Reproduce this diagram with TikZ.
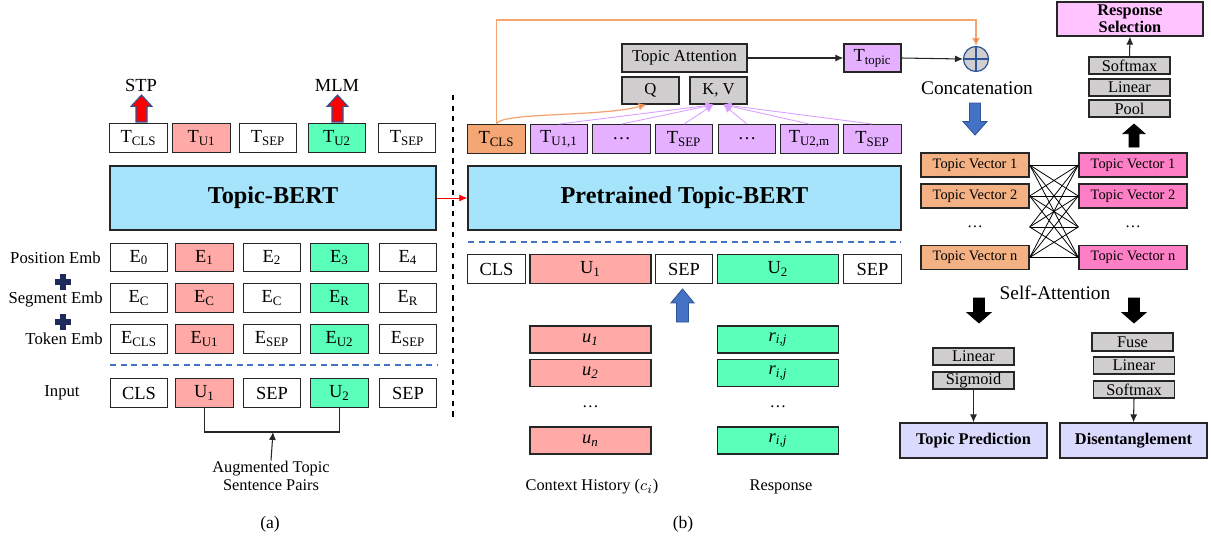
\documentclass[tikz,border=0pt]{standalone}
\usepackage{fontspec}
\setmainfont{Liberation Serif}
\usetikzlibrary{arrows.meta}

\definecolor{pinkc}{HTML}{FFAAA6}
\definecolor{greenc}{HTML}{5AFFB9}
\definecolor{bertc}{HTML}{A6E4FC}
\definecolor{purpc}{HTML}{E4B0FF}
\definecolor{orangec}{HTML}{F4A674}
\definecolor{vecc}{HTML}{F4B183}
\definecolor{hotc}{HTML}{FF7FC6}
\definecolor{grayc}{HTML}{D0CECE}
\definecolor{respc}{HTML}{FFC4FF}
\definecolor{lavc}{HTML}{DADAFF}
\definecolor{bluec}{HTML}{4472C4}
\definecolor{circb}{HTML}{2F5597}
\definecolor{navyc}{HTML}{1F2A5C}
\definecolor{orline}{HTML}{F4A46E}
\definecolor{orhead}{HTML}{ED7D31}
\definecolor{purline}{HTML}{D9A0FF}

% fat block arrow: style, x, y of tip, y of base, head width, shaft width
\newcommand{\blockarrow}[6]{%
  \draw[#1] ({#2-#6/2},#4) -- ({#2-#6/2},{#3+(#4-#3)*0.42}) -- ({#2-#5/2},{#3+(#4-#3)*0.42}) -- (#2,#3)
    -- ({#2+#5/2},{#3+(#4-#3)*0.42}) -- ({#2+#6/2},{#3+(#4-#3)*0.42}) -- ({#2+#6/2},#4) -- cycle;}

\begin{document}
\begin{tikzpicture}[x=0.02cm, y=-0.02cm,
tokbox/.style={rectangle, draw=black!85, line width=0.8pt, minimum width=1.15cm, minimum height=0.57cm, inner sep=0pt, font=\fontsize{10.5}{12}\selectfont},
widebox/.style={tokbox, minimum width=2.42cm},
bertbox/.style={rectangle, draw=black!85, line width=1pt, fill=bertc, minimum height=1.28cm, font=\bfseries\fontsize{13.8}{15}\selectfont},
graybox/.style={rectangle, draw=black!85, line width=0.8pt, fill=grayc, minimum height=0.55cm, inner sep=0pt, font=\fontsize{9.5}{11}\selectfont},
layerbox/.style={graybox, minimum width=1.62cm, minimum height=0.34cm, font=\fontsize{9.3}{10}\selectfont},
vecbox/.style={rectangle, draw=black!85, line width=0.8pt, minimum width=2.16cm, minimum height=0.48cm, inner sep=0pt, font=\fontsize{8.2}{9}\selectfont},
taskbox/.style={rectangle, draw=black!85, line width=0.8pt, fill=lavc, minimum width=2.94cm, minimum height=0.70cm, inner sep=0pt, font=\bfseries\fontsize{9.3}{10}\selectfont},
lbl/.style={inner sep=0pt, font=\fontsize{9.5}{11}\selectfont},
biglbl/.style={inner sep=0pt, font=\fontsize{11}{12}\selectfont},
conn/.style={-{Latex[length=4.5pt,width=4pt]}, draw=black!85, line width=0.6pt},
plus/.style={line width=3.2pt, draw=navyc},
blued/.style={dash pattern=on 3.5pt off 2.5pt, draw=bluec, line width=0.9pt}
]
\useasboundingbox (0,0) rectangle (1211,539);

% (a) Topic-BERT pre-training
\node[lbl, font=\fontsize{10.5}{12}\selectfont] (stp) at (141,85) {STP};
\node[lbl, font=\fontsize{10.5}{12}\selectfont] (mlm) at (337,85) {MLM};
\blockarrow{fill=red, draw=circb, line width=0.6pt}{141.5}{95}{122}{21}{11}
\blockarrow{fill=red, draw=circb, line width=0.6pt}{337.5}{95}{122}{21}{11}

\node[tokbox] (tcls) at (138.5,138) {T\textsubscript{CLS}};
\node[tokbox, fill=pinkc] (tu1) at (201.5,138) {T\textsubscript{U1}};
\node[tokbox] (tsepa) at (268,138) {T\textsubscript{SEP}};
\node[tokbox, fill=greenc] (tu2) at (337,138) {T\textsubscript{U2}};
\node[tokbox] (tsepb) at (407,138) {T\textsubscript{SEP}};

\node[bertbox, minimum width=6.52cm] (bert) at (273,198) {Topic-BERT};

\node[lbl, anchor=east] (posl) at (101,258) {Position Emb};
\node[tokbox] (p0) at (139,257.5) {E\textsubscript{0}};
\node[tokbox, fill=pinkc] (p1) at (204.5,257.5) {E\textsubscript{1}};
\node[tokbox] (p2) at (272,257.5) {E\textsubscript{2}};
\node[tokbox, fill=greenc] (p3) at (339.5,257.5) {E\textsubscript{3}};
\node[tokbox] (p4) at (408,257.5) {E\textsubscript{4}};

\draw[plus] (55,282) -- (71,282) (63,274) -- (63,290);

\node[lbl, anchor=east] (segl) at (103,299) {Segment Emb};
\node[tokbox] (s0) at (139,298) {E\textsubscript{C}};
\node[tokbox, fill=pinkc] (s1) at (204.5,298) {E\textsubscript{C}};
\node[tokbox] (s2) at (272,298) {E\textsubscript{C}};
\node[tokbox, fill=greenc] (s3) at (339.5,298) {E\textsubscript{R}};
\node[tokbox] (s4) at (408,298) {E\textsubscript{R}};

\draw[plus] (55,322) -- (71,322) (63,314) -- (63,330);

\node[lbl, anchor=east] (tokl) at (103,339) {Token Emb};
\node[tokbox] (k0) at (139,339) {E\textsubscript{CLS}};
\node[tokbox, fill=pinkc] (k1) at (204.5,339) {E\textsubscript{U1}};
\node[tokbox] (k2) at (272,339) {E\textsubscript{SEP}};
\node[tokbox, fill=greenc] (k3) at (339.5,339) {E\textsubscript{U2}};
\node[tokbox] (k4) at (408,339) {E\textsubscript{SEP}};

\draw[blued] (110,365) -- (437,365);

\node[lbl] (inl) at (62,393) {Input};
\node[tokbox] (i0) at (139,393) {CLS};
\node[tokbox, fill=pinkc] (i1) at (204.5,393) {U\textsubscript{1}};
\node[tokbox] (i2) at (272,393) {SEP};
\node[tokbox, fill=greenc] (i3) at (339.5,393) {U\textsubscript{2}};
\node[tokbox] (i4) at (408,393) {SEP};

\coordinate (brk) at (273,432);
\draw[black!85, line width=0.6pt] (i1.south) |- (brk) -| (i3.south);
\node[lbl, align=center, font=\fontsize{9.3}{10.5}\selectfont] (aug) at (271,476) {Augmented Topic\\Sentence Pairs};
\draw[conn] (aug.north) -- (brk);
\node[lbl, font=\fontsize{10}{12}\selectfont] (capa) at (270,524) {(a)};

\draw[dashed, black, line width=0.7pt] (453,95) -- (453,420);

% (b) fine-tuning
\node[bertbox, minimum width=8.66cm] (pbert) at (684.5,198) {Pretrained Topic-BERT};
\draw[conn, red, line width=0.5pt] (bert.east) -- (pbert.west);

\node[tokbox, fill=orangec] (tclsb) at (496.5,139) {T\textsubscript{CLS}};
\node[tokbox, fill=purpc] (tk2) at (559,139) {T\textsubscript{U1,1}};
\node[tokbox, fill=purpc] (tk3) at (621.5,139) {\dots};
\node[tokbox, fill=purpc] (tk4) at (684,139) {T\textsubscript{SEP}};
\node[tokbox, fill=purpc] (tk5) at (747,139) {\dots};
\node[tokbox, fill=purpc] (tk6) at (809.5,139) {T\textsubscript{U2,m}};
\node[tokbox, fill=purpc] (tk7) at (872.5,139) {T\textsubscript{SEP}};

\node[graybox, minimum width=2.5cm, minimum height=0.56cm] (ta) at (684.5,58) {Topic Attention};
\node[graybox, minimum width=1.14cm, minimum height=0.54cm] (q) at (650.5,90.5) {Q};
\node[graybox, minimum width=1.14cm, minimum height=0.54cm] (kv) at (718.5,90.5) {K, V};
\node[tokbox, fill=purpc, minimum width=1.14cm, minimum height=0.56cm] (ttopic) at (872.5,58) {T\textsubscript{topic}};
\node[circle, draw=circb, fill=grayc, line width=0.7pt, minimum size=0.5cm, inner sep=0pt] (circ) at (976,59) {};
\draw[circb, line width=0.7pt] (circ.north) -- (circ.south) (circ.west) -- (circ.east);
\node[biglbl] (concat) at (977,88) {Concatenation};

\draw[conn] (ta.east) -- (ttopic.west);
\draw[conn] (ttopic.east) -- (circ.west);
\draw[orline, line width=0.7pt, -{Latex[length=4.5pt,width=4.5pt,fill=orhead]}] (tclsb.north) -- ++(0,-104) -| (circ.north);
\draw[orline, line width=0.7pt, -{Latex[length=4.5pt,width=4.5pt,fill=orhead]}] (tclsb.north) .. controls (500,112) and (600,117) .. ([xshift=-0.08cm]q.south);
\foreach \t in {tk2,tk3,tk4}
  \draw[purline, line width=0.5pt, -{Latex[length=4.5pt,width=4.5pt]}] (\t.north) -- ([xshift=-0.1cm]kv.south);
\foreach \t in {tk5,tk6,tk7}
  \draw[purline, line width=0.5pt, -{Latex[length=4.5pt,width=4.5pt]}] (\t.north) -- ([xshift=0.1cm]kv.south);

\draw[blued] (468,242) -- (901,242);

\node[tokbox] (c0) at (496.5,269) {CLS};
\node[widebox, fill=pinkc] (c1) at (590.5,269) {U\textsubscript{1}};
\node[tokbox] (c2) at (684,269) {SEP};
\node[widebox, fill=greenc] (c3) at (778,269) {U\textsubscript{2}};
\node[tokbox] (c4) at (872.5,269) {SEP};

\blockarrow{fill=bluec, draw=circb, line width=0.5pt}{682.5}{289}{322}{23}{12}

\node[widebox, fill=pinkc, minimum height=0.54cm] (u1) at (590.5,339.5) {\textit{u}\textsubscript{\textit{1}}};
\node[widebox, fill=pinkc, minimum height=0.54cm] (u2) at (590.5,373) {\textit{u}\textsubscript{\textit{2}}};
\node[lbl] (ud) at (590.5,407) {\dots};
\node[widebox, fill=pinkc, minimum height=0.54cm] (un) at (590.5,440.5) {\textit{u}\textsubscript{\textit{n}}};
\node[widebox, fill=greenc, minimum height=0.54cm] (r1) at (778,339.5) {\textit{r}\textsubscript{\textit{i,j}}};
\node[widebox, fill=greenc, minimum height=0.54cm] (r2) at (778,373) {\textit{r}\textsubscript{\textit{i,j}}};
\node[lbl] (rd) at (778,407) {\dots};
\node[widebox, fill=greenc, minimum height=0.54cm] (rn) at (778,440.5) {\textit{r}\textsubscript{\textit{i,j}}};

\node[lbl, font=\fontsize{9.3}{11}\selectfont] (ctx) at (592,487) {Context History ($c_i$)};
\node[lbl, font=\fontsize{9.3}{11}\selectfont] (resp) at (781,487) {Response};
\node[lbl, font=\fontsize{10}{12}\selectfont] (capb) at (683,524) {(b)};

% topic vectors and heads
\blockarrow{fill=bluec, draw=circb, line width=0.5pt}{975}{135}{103}{24}{11}

\node[vecbox, fill=vecc] (tv1) at (975,165) {Topic Vector 1};
\node[vecbox, fill=vecc] (tv2) at (975,196) {Topic Vector 2};
\node[vecbox, draw=none, font=\fontsize{9}{10}\selectfont] (tvd) at (975,227) {\dots};
\node[vecbox, fill=vecc] (tvn) at (975,257.5) {Topic Vector n};
\node[vecbox, fill=hotc] (pv1) at (1133,165) {Topic Vector 1};
\node[vecbox, fill=hotc] (pv2) at (1133,196) {Topic Vector 2};
\node[vecbox, draw=none, font=\fontsize{9}{10}\selectfont] (pvd) at (1133,227) {\dots};
\node[vecbox, fill=hotc] (pvn) at (1133,257.5) {Topic Vector n};
\foreach \a in {tv1,tv2,tvd,tvn}
  \foreach \b in {pv1,pv2,pvd,pvn}
    \draw[black, line width=0.45pt] (\a.east) -- (\b.west);
\node[biglbl] (selfatt) at (1055,293) {Self-Attention};

\blockarrow{fill=black, draw=black}{1134}{124}{147}{22}{10}
\node[layerbox] (pool) at (1129.5,108.5) {Pool};
\node[layerbox] (lin1) at (1129.5,87.5) {Linear};
\node[layerbox] (smx1) at (1129.5,65.5) {Softmax};
\node[taskbox, fill=respc, minimum width=2.92cm, minimum height=0.68cm, align=center, font=\bfseries\fontsize{9.3}{9.8}\selectfont] (rsel) at (1130,19) {Response\\Selection};
\draw[conn] (smx1.north) -- (rsel.south);

\blockarrow{fill=black, draw=black}{979}{323}{298}{24}{11}
\blockarrow{fill=black, draw=black}{1134}{323}{298}{24}{11}

\node[layerbox] (lin2) at (973.5,356.5) {Linear};
\node[layerbox] (sig) at (973.5,380.5) {Sigmoid};
\node[taskbox] (tpred) at (973.5,440.5) {Topic Prediction};
\draw[conn] (sig.south) -- (tpred.north);

\node[layerbox, minimum height=0.36cm] (fuse) at (1132.5,342) {Fuse};
\node[layerbox] (lin3) at (1134,365.5) {Linear};
\node[layerbox] (smx2) at (1134,389.5) {Softmax};
\node[taskbox] (dis) at (1133.5,440.5) {Disentanglement};
\draw[conn] (smx2.south) -- (dis.north);
\end{tikzpicture}
\end{document}
